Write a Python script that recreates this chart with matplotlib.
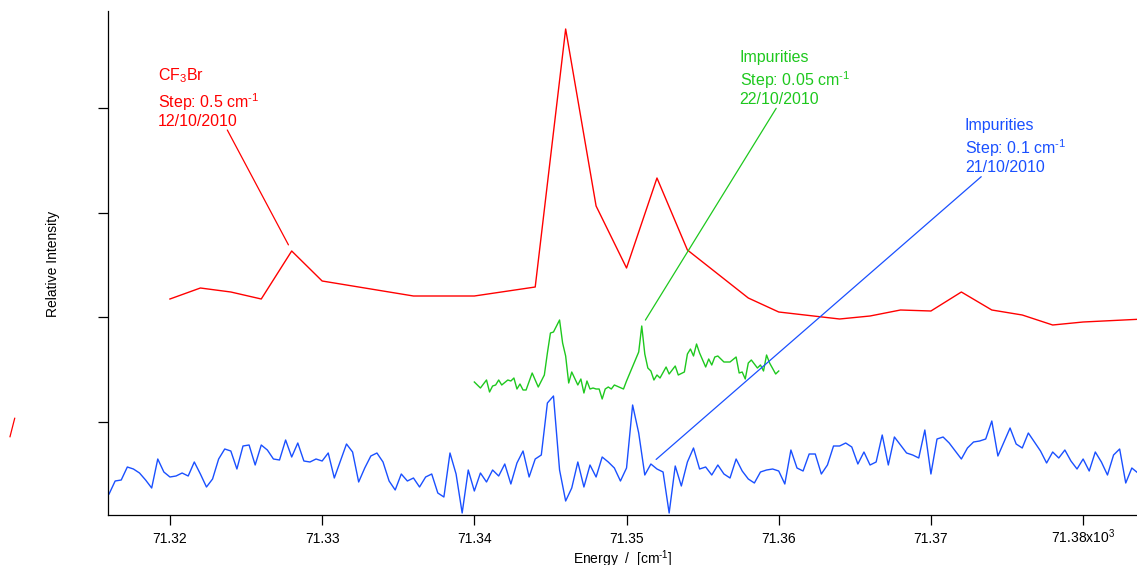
import matplotlib
matplotlib.use("Agg")
import matplotlib.pyplot as plt
from matplotlib.lines import Line2D
import numpy as np

plt.rcParams['font.family'] = ['Liberation Sans', 'DejaVu Sans']
plt.rcParams['mathtext.fontset'] = 'custom'
plt.rcParams['mathtext.rm'] = 'Liberation Sans'
plt.rcParams['mathtext.it'] = 'Liberation Sans:italic'
plt.rcParams['mathtext.bf'] = 'Liberation Sans:bold'

# ---- data -------------------------------------------------------------
# CF3Br scan (coarse step)
red_energy = [71.320, 71.322, 71.324, 71.326, 71.328, 71.330, 71.336, 71.340,
              71.344, 71.346, 71.348, 71.350, 71.352, 71.354, 71.358, 71.360,
              71.364, 71.366, 71.368, 71.370, 71.372, 71.374, 71.376, 71.378,
              71.380, 71.384]
red_intensity = [226, 237, 233, 226, 274, 244, 229, 229,
                 238, 496, 319, 257, 347, 275, 227, 213,
                 206, 209, 215, 214, 233, 215, 210, 200,
                 203, 206]

# Impurities, fine scan 22/10/2010
green_start = 71.340
green_step = 0.0002
green_index = [0, 2, 4, 5, 6, 7, 8, 9, 11, 12, 13, 14, 15, 16, 17, 19, 21, 23,
               24, 25, 26, 28, 29, 30, 31, 32, 34, 35, 36, 37, 38, 39, 40, 41,
               42, 43, 44, 45, 46, 49, 50, 54, 55, 56, 57, 58, 59, 60, 61, 63,
               64, 66, 67, 69, 70, 71, 72, 73, 74, 75, 76, 77, 78, 79, 80, 82,
               84, 86, 87, 88, 89, 90, 91, 93, 94, 95, 96, 97, 99, 100]
green_intensity = [143, 137, 145, 133, 139, 140, 145, 140, 145, 144, 147, 136,
                   141, 135, 135, 152, 138, 150, 172, 192, 193, 205, 182, 169,
                   142, 153, 140, 146, 132, 144, 136, 137, 136, 136, 126, 136,
                   138, 136, 140, 136, 144, 173, 199, 171, 157, 154, 145, 150,
                   147, 158, 151, 159, 150, 153, 171, 176, 169, 181, 172, 165,
                   158, 166, 160, 168, 169, 163, 163, 168, 152, 153, 146, 162,
                   165, 157, 160, 154, 170, 162, 151, 154]

# Impurities, scan 21/10/2010
blue_start = 71.3160
blue_step = 0.0004
blue_intensity = [31, 44, 45, 58, 56, 52, 45, 37, 66, 53,
                  48, 49, 52, 49, 63, 51, 38, 46, 66, 76,
                  74, 56, 79, 80, 60, 80, 75, 66, 65, 85,
                  68, 82, 64, 63, 66, 64, 72, 47, 64, 81,
                  73, 43, 57, 69, 72, 63, 44, 35, 51, 44,
                  47, 38, 48, 51, 32, 28, 72, 51, 12, 55,
                  34, 52, 43, 55, 49, 61, 41, 62, 74, 48,
                  66, 70, 122, 129, 55, 24, 37, 63, 38, 60,
                  48, 68, 63, 57, 44, 57, 120, 92, 50, 61,
                  56, 53, 12, 59, 39, 63, 77, 56, 58, 50,
                  60, 51, 47, 66, 54, 46, 42, 53, 55, 56,
                  54, 41, 75, 57, 54, 71, 71, 51, 60, 79,
                  79, 82, 78, 61, 73, 60, 63, 90, 60, 88,
                  80, 72, 70, 67, 95, 51, 86, 88, 82, 74,
                  66, 77, 83, 84, 86, 104, 69, 83, 97, 81,
                  77, 92, 83, 74, 62, 73, 67, 75, 64, 56,
                  66, 54, 73, 63, 50, 70, 76, 42, 57, 52]

x_ticks = [71.32, 71.33, 71.34, 71.35, 71.36, 71.37, 71.38]
x_tick_labels = ["71.32", "71.33", "71.34", "71.35", "71.36", "71.37",
                 "71.38x10$^{3}$"]

red_label = ["CF$_{3}$Br", "Step: 0.5 cm$^{\\text{-1}}$", "12/10/2010"]
green_label = ["Impurities", "Step: 0.05 cm$^{\\text{-1}}$", "22/10/2010"]
blue_label = ["Impurities", "Step: 0.1 cm$^{\\text{-1}}$", "21/10/2010"]

# ---- figure -----------------------------------------------------------
RED = '#ff0000'
GREEN = '#1ec81e'
BLUE = '#1a50ff'

W, H = 1137, 565
fig = plt.figure(figsize=(W / 100, H / 100), dpi=100)


def fx(px):
    return px / W


def fy(py):
    return 1 - py / H


ax = fig.add_axes([fx(108.3), fy(515), 1 - fx(108.3), fy(11) - fy(515)])

green_energy = green_start + green_step * np.array(green_index)
blue_energy = blue_start + blue_step * np.arange(len(blue_intensity))

ax.plot(red_energy, red_intensity, color=RED, lw=1.0)
ax.plot(green_energy, green_intensity, color=GREEN, lw=1.0)
ax.plot(blue_energy, blue_intensity, color=BLUE, lw=1.0)

ax.set_xlim(71.31595, 71.38354)
ax.set_ylim(10, 514)

for side in ('top', 'right'):
    ax.spines[side].set_visible(False)
for side in ('left', 'bottom'):
    ax.spines[side].set_linewidth(0.9)

ax.set_xticks(x_ticks)
ax.set_xticklabels(x_tick_labels, fontsize=10, va='baseline')
ax.set_yticks([103.3, 207.8, 312.5, 417.2])
ax.set_yticklabels([])
ax.tick_params(direction='out', length=7, width=0.9)
ax.tick_params(axis='x', pad=13)

ax.set_xlabel("Energy  /  [cm$^{\\text{-1}}$]", fontsize=10, labelpad=2)
fig.text(fx(53.5), fy(264), "Relative Intensity", rotation=90,
         ha='center', va='center', fontsize=10)


def note(lines, color, x_left, baselines, anchor, target):
    for txt, yb in zip(lines, baselines):
        fig.text(fx(x_left), fy(yb), txt, color=color, fontsize=11.5,
                 ha='left', va='baseline')
    ax.annotate('', xy=target, xycoords='data',
                xytext=(fx(anchor[0]), fy(anchor[1])),
                textcoords='figure fraction', annotation_clip=False,
                arrowprops=dict(arrowstyle='-', color=color, lw=0.9,
                                shrinkA=0, shrinkB=5))


note(red_label, RED, 158, [80, 108, 126], (227.3, 130),
     (red_energy[4], red_intensity[4]))
gi = green_index.index(55)
note(green_label, GREEN, 739.6, [62.3, 85.7, 104], (776.2, 108.3),
     (green_energy[gi], green_intensity[gi]))
note(blue_label, BLUE, 965, [130, 154, 172.3], (981.2, 176.7),
     (blue_energy[89], blue_intensity[89]))

# short red stroke left of the axis
fig.add_artist(Line2D([fx(10), fx(14.7)], [fy(436.7), fy(418.3)],
                      transform=fig.transFigure, color=RED, lw=0.9))

fig.savefig('out.png', dpi=100)
